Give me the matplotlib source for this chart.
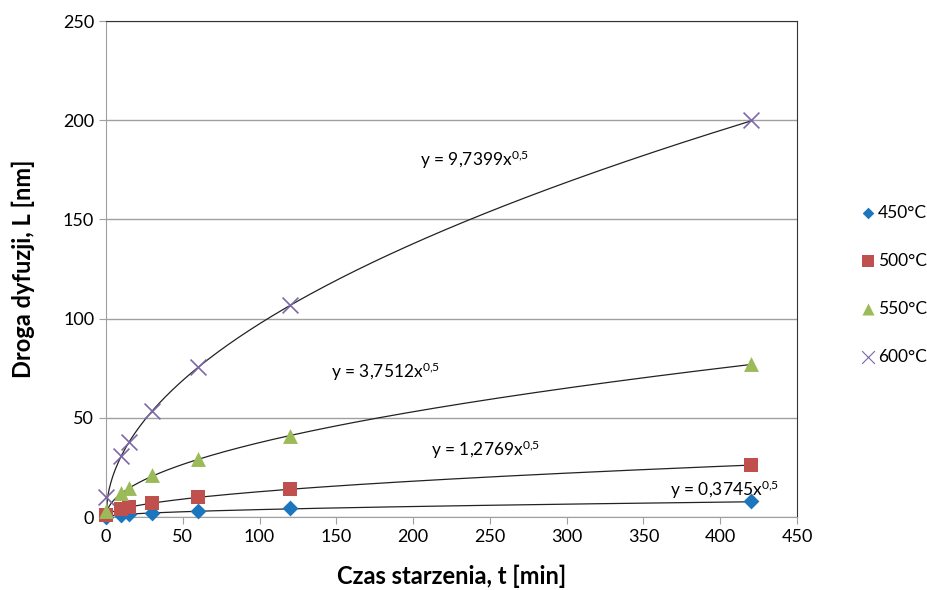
import matplotlib
matplotlib.use("Agg")
import matplotlib.pyplot as plt
import numpy as np

plt.rcParams["font.family"] = ["Lato", "DejaVu Sans"]
plt.rcParams["mathtext.fontset"] = "custom"
plt.rcParams["mathtext.rm"] = "Lato"
plt.rcParams["mathtext.it"] = "Lato"

# ageing time [min]
t = [0, 10, 15, 30, 60, 120, 420]

# diffusion path L [nm]
L_450 = [0.0, 1.0, 1.5, 2.2, 3.2, 4.5, 8.0]
L_500 = [1.0, 4.0, 5.2, 7.2, 10.2, 14.2, 26.3]
L_550 = [3.0, 12.0, 14.5, 21.0, 29.0, 41.0, 77.0]
L_600 = [10.0, 31.0, 38.0, 53.5, 75.5, 107.0, 200.0]

labels = ["450°C", "500°C", "550°C", "600°C"]
coefs = [0.3745, 1.2769, 3.7512, 9.7399]
coef_text = ["0,3745", "1,2769", "3,7512", "9,7399"]
eq_pos = [(403, 13.5), (247, 34), (182, 73), (240, 180)]

series = [L_450, L_500, L_550, L_600]
markers = ["D", "s", "^", "x"]
colors = ["#1c76bd", "#c0504d", "#9bbb59", "#7b68a8"]
sizes = [65, 100, 115, 130]

fig = plt.figure(figsize=(9.28, 5.9), dpi=100)
ax = fig.add_axes([0.1142, 0.1237, 0.7446, 0.8407])

xs = np.linspace(0, 420, 400)
for a in coefs:
    ax.plot(xs, a * np.sqrt(xs), color="#222222", lw=0.9, zorder=2)

for ys, m, c, s, lab in zip(series, markers, colors, sizes, labels):
    lw = 1.2 if m == "x" else 0
    ax.scatter(t, ys, marker=m, s=s, color=c, linewidths=lw, zorder=3, label=lab,
               clip_on=False)

for a_txt, (ex, ey) in zip(coef_text, eq_pos):
    ax.text(ex, ey, f"y = {a_txt}x$^{{0{{,}}5}}$", fontsize=12.5, ha="center",
            va="center", zorder=4)

ax.set_xlim(0, 450)
ax.set_ylim(0, 250)
ax.set_xticks(np.arange(0, 451, 50))
ax.set_yticks(np.arange(0, 251, 50))
ax.grid(axis="y", color="#a0a0a0", lw=1.0)
ax.set_axisbelow(True)
ax.tick_params(labelsize=13, length=5, color="#a0a0a0", direction="out")
for side in ["left", "bottom"]:
    ax.spines[side].set_color("#a0a0a0")
for side in ["top", "right"]:
    ax.spines[side].set_color("#333333")
    ax.spines[side].set_linewidth(0.8)

ax.set_xlabel("Czas starzenia, t [min]", fontsize=17, fontweight="bold", labelpad=14)
ax.set_ylabel("Droga dyfuzji, L [nm]", fontsize=17, fontweight="bold", labelpad=20)

leg_sizes = [35, 65, 75, 85]
leg_handles = []
for m, c, s in zip(markers, colors, leg_sizes):
    lw = 0.8 if m == "x" else 0
    leg_handles.append(plt.scatter([], [], marker=m, s=s, color=c, linewidths=lw))
fig.legend(leg_handles, labels, loc="upper left", bbox_to_anchor=(0.918, 0.665),
           frameon=False, fontsize=12.5, labelspacing=1.85, handletextpad=0.1,
           handlelength=1.0, borderaxespad=0)

fig.savefig("out.png", dpi=100)
